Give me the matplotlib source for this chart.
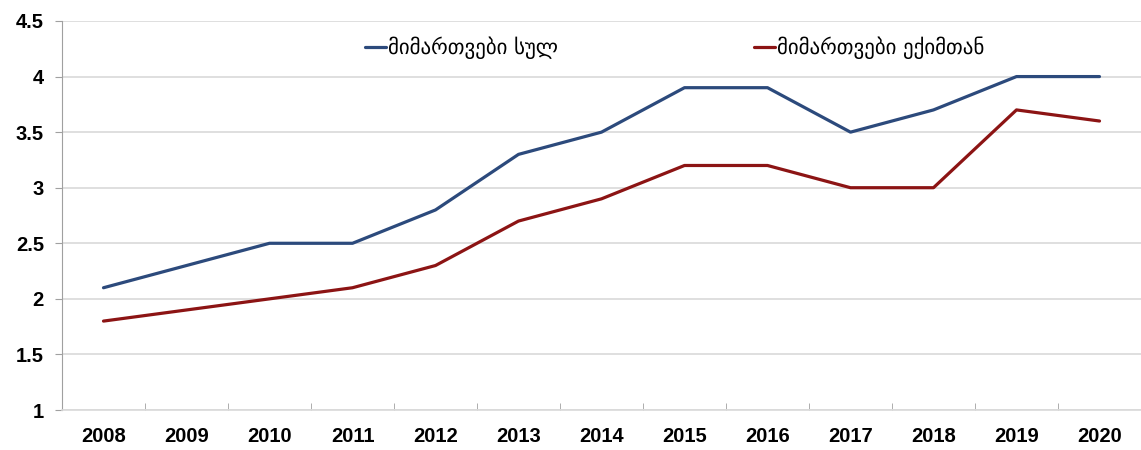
import matplotlib
matplotlib.use("Agg")
import matplotlib.pyplot as plt

years = ["2008", "2009", "2010", "2011", "2012", "2013", "2014",
         "2015", "2016", "2017", "2018", "2019", "2020"]
total = [2.1, 2.3, 2.5, 2.5, 2.8, 3.3, 3.5, 3.9, 3.9, 3.5, 3.7, 4.0, 4.0]
doctor = [1.8, 1.9, 2.0, 2.1, 2.3, 2.7, 2.9, 3.2, 3.2, 3.0, 3.0, 3.7, 3.6]
label_total = "მიმართვები სულ"
label_doctor = "მიმართვები ექიმთან"
yticks = [1, 1.5, 2, 2.5, 3, 3.5, 4, 4.5]
ytick_labels = ["1", "1.5", "2", "2.5", "3", "3.5", "4", "4.5"]

fig = plt.figure(figsize=(11.41, 4.5), dpi=100)
ax = fig.add_axes([62/1141, 1-410/450, 1-62/1141, (410-21)/450])

x = list(range(len(years)))
ax.plot(x, total, color="#2C4A7C", lw=2.3, label=label_total, solid_capstyle="round")
ax.plot(x, doctor, color="#8C1414", lw=2.3, label=label_doctor, solid_capstyle="round")

ax.set_xlim(-0.5, len(years)-0.5)
ax.set_ylim(1, 4.5)
ax.set_yticks(yticks)
ax.set_yticklabels(ytick_labels, fontfamily="Liberation Sans", fontweight="bold", fontsize=14.5)
ax.set_xticks(x)
ax.set_xticklabels(years, fontfamily="Liberation Sans", fontweight="bold", fontsize=14.5)
ax.tick_params(axis="x", length=0, pad=12)
ax.set_xticks([i + 0.5 for i in x[:-1]], minor=True)
ax.tick_params(axis="x", which="minor", length=5, color="#A0A0A0", direction="in")
ax.tick_params(axis="y", length=5, color="#A0A0A0", pad=8)

ax.grid(axis="y", color="#D9D9D9", lw=1.2)
ax.set_axisbelow(True)
for s in ["top", "right"]:
    ax.spines[s].set_visible(False)
ax.spines["left"].set_color("#A0A0A0")
ax.spines["bottom"].set_color("#D9D9D9")
ax.spines["bottom"].set_linewidth(1.2)

leg = ax.legend(loc="center left", bbox_to_anchor=((365-62)/1079, (410-48)/389), ncol=2,
                frameon=False, borderaxespad=0, borderpad=0,
                prop={"family": "DejaVu Sans", "size": 15}, handlelength=1.0,
                handletextpad=0.1, columnspacing=9.4)

fig.savefig("out.png", dpi=100)
